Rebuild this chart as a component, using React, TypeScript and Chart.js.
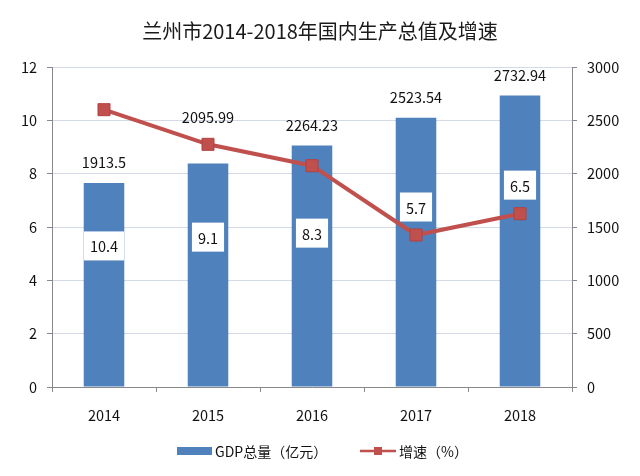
import React, { useEffect, useRef } from "react";
import { Chart, registerables } from "chart.js";

Chart.register(...registerables);

const TITLE = "兰州市2014-2018年国内生产总值及增速";
const years = ["2014", "2015", "2016", "2017", "2018"];
const gdpValues = [1913.5, 2095.99, 2264.23, 2523.54, 2732.94];
const gdpLabels = ["1913.5", "2095.99", "2264.23", "2523.54", "2732.94"];
const growthValues = [10.4, 9.1, 8.3, 5.7, 6.5];
const growthLabels = ["10.4", "9.1", "8.3", "5.7", "6.5"];
const gdpName = "GDP总量（亿元）";
const growthName = "增速（%）";

// label placement as in the original (layout only)
const growthLabelAnchor = [5.29, 5.62, 5.77, 6.75, 7.57]; // left-axis units
const gdpLabelExtraLift = [0, 26, 0, 0, 0]; // px

const FONT = "'Noto Sans CJK SC', 'Noto Sans', sans-serif";
const BLUE = "#4F81BD";
const RED = "#C0504D";

const overlayPlugin = {
  id: "overlay",
  afterDatasetsDraw(chart: any) {
    const ctx = chart.ctx;
    const barMeta = chart.getDatasetMeta(1);
    const yL = chart.scales.y;
    ctx.save();
    ctx.textAlign = "center";
    ctx.textBaseline = "middle";
    ctx.fillStyle = "#111";
    ctx.font = `14.5px ${FONT}`;
    barMeta.data.forEach((el: any, i: number) => {
      ctx.fillText(gdpLabels[i], el.x, el.y - 20 - gdpLabelExtraLift[i]);
    });
    barMeta.data.forEach((el: any, i: number) => {
      const cy = yL.getPixelForValue(growthLabelAnchor[i]);
      ctx.font = `14.5px ${FONT}`;
      const w = ctx.measureText(growthLabels[i]).width + 12;
      const h = 29;
      ctx.fillStyle = "#fff";
      ctx.fillRect(el.x - w / 2, cy - h / 2, w, h);
      ctx.fillStyle = "#111";
      ctx.fillText(growthLabels[i], el.x, cy + 1);
    });
    ctx.restore();
  },
  afterDraw(chart: any) {
    const ctx = chart.ctx;
    ctx.save();
    const ly = 451;
    ctx.fillStyle = BLUE;
    ctx.fillRect(177, ly - 4, 35, 8);
    ctx.fillStyle = "#111";
    ctx.font = `14px ${FONT}`;
    ctx.textAlign = "left";
    ctx.textBaseline = "middle";
    ctx.fillText(gdpName, 215, ly + 1);
    ctx.strokeStyle = RED;
    ctx.lineWidth = 2.5;
    ctx.beginPath();
    ctx.moveTo(360, ly);
    ctx.lineTo(396, ly);
    ctx.stroke();
    ctx.fillStyle = RED;
    ctx.fillRect(374, ly - 4, 8, 8);
    ctx.fillStyle = "#111";
    ctx.fillText(growthName, 399, ly + 1);
    ctx.restore();
  },
};

export default function App() {
  const ref = useRef<HTMLCanvasElement>(null);
  useEffect(() => {
    const prevMargin = document.body.style.margin;
    document.body.style.margin = "0";
    const chart = new Chart(ref.current as HTMLCanvasElement, {
      data: {
        labels: years,
        datasets: [
          {
            type: "line" as const,
            label: growthName,
            data: growthValues,
            yAxisID: "y",
            borderColor: RED,
            backgroundColor: RED,
            borderWidth: 4,
            pointStyle: "rect",
            pointRadius: 8.5,
            pointBackgroundColor: RED,
            pointBorderColor: "#B4413E",
            pointBorderWidth: 1,
            order: 0,
          },
          {
            type: "bar" as const,
            label: gdpName,
            data: gdpValues,
            yAxisID: "y1",
            backgroundColor: BLUE,
            categoryPercentage: 1,
            barPercentage: 0.39,
            order: 1,
          },
        ],
      } as any,
      options: {
        animation: false,
        responsive: false,
        maintainAspectRatio: false,
        layout: { padding: { left: 0, right: 0, top: 0, bottom: 0 } },
        plugins: {
          legend: { display: false },
          tooltip: { enabled: false },
          title: {
            display: true,
            text: TITLE,
            color: "#1a1a1a",
            font: { family: FONT, size: 20, weight: "normal" },
            padding: { top: 19, bottom: 24 },
          },
        },
        scales: {
          x: {
            offset: true,
            afterFit: (s: any) => {
              s.height = 89;
            },
            grid: {
              offset: true,
              drawOnChartArea: false,
              color: "#888",
              tickLength: 5,
            },
            border: { color: "#888", width: 1 },
            ticks: {
              color: "#111",
              font: { family: FONT, size: 14.5 },
              padding: 15,
            },
          },
          y: {
            position: "left",
            min: 0,
            max: 12,
            afterFit: (s: any) => {
              s.width = 52;
            },
            ticks: {
              stepSize: 2,
              color: "#111",
              font: { family: FONT, size: 14.5 },
              padding: 10,
            },
            grid: {
              color: "#D3DAE6",
              tickColor: "#888",
              tickLength: 5,
            },
            border: { color: "#888", width: 1 },
          },
          y1: {
            position: "right",
            min: 0,
            max: 3000,
            afterFit: (s: any) => {
              s.width = 68;
            },
            ticks: {
              stepSize: 500,
              color: "#111",
              font: { family: FONT, size: 14.5 },
              padding: 10,
              callback: (v: any) => String(v),
            },
            grid: {
              drawOnChartArea: false,
              color: "#888",
              tickLength: 5,
            },
            border: { color: "#888", width: 1 },
          },
        },
      } as any,
      plugins: [overlayPlugin],
    });
    return () => {
      chart.destroy();
      document.body.style.margin = prevMargin;
    };
  }, []);
  return (
    <div style={{ width: 640, height: 476, background: "#fff" }}>
      <canvas ref={ref} width={640} height={476} style={{ display: "block" }} />
    </div>
  );
}
